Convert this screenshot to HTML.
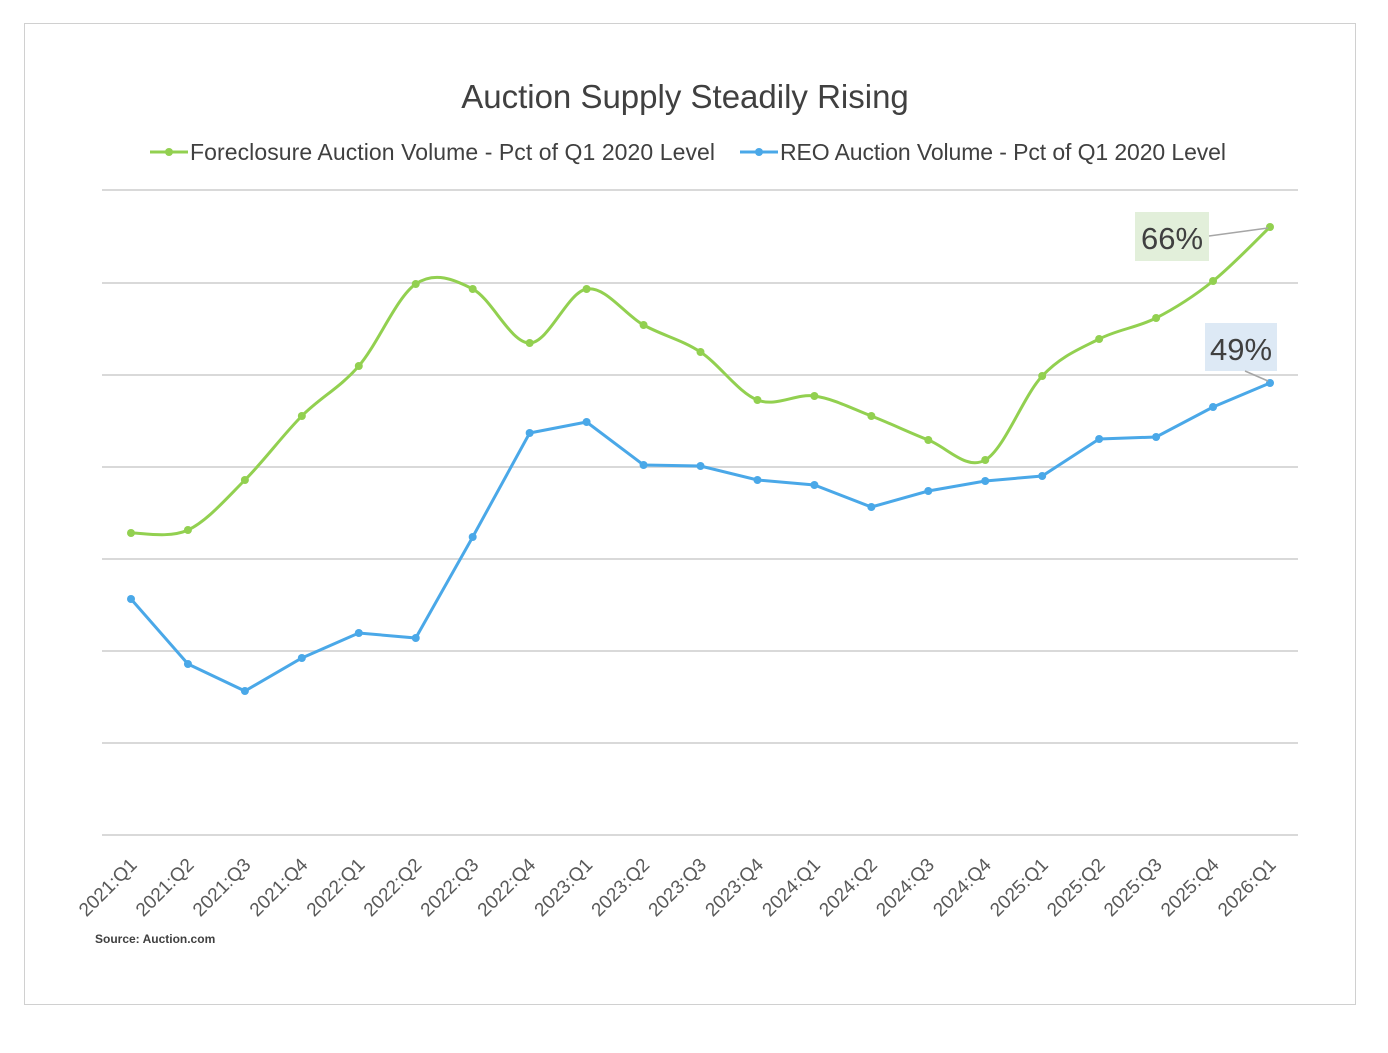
<!DOCTYPE html>
<html><head><meta charset="utf-8"><style>
html,body{margin:0;padding:0;background:#fff}
</style></head><body>
<svg id="s" width="1388" height="1048" xmlns="http://www.w3.org/2000/svg" font-family="'Liberation Sans', sans-serif">
<rect x="24.5" y="23.5" width="1331" height="981" fill="#fff" stroke="#d0d0d0"/>
<text x="685" y="108" text-anchor="middle" font-size="33" fill="#404040">Auction Supply Steadily Rising</text>
<line x1="150" y1="152" x2="188" y2="152" stroke="#92d050" stroke-width="3"/><circle cx="169" cy="152" r="4" fill="#92d050"/>
<text x="190" y="160" font-size="23" fill="#404040" textLength="525">Foreclosure Auction Volume - Pct of Q1 2020 Level</text>
<line x1="740" y1="152" x2="778" y2="152" stroke="#4aa8e8" stroke-width="3"/><circle cx="759" cy="152" r="4" fill="#4aa8e8"/>
<text x="780" y="160" font-size="23" fill="#404040" textLength="446">REO Auction Volume - Pct of Q1 2020 Level</text>
<g stroke="#d9d9d9" stroke-width="2" id="grid"></g>
<path id="gp" fill="none" stroke="#92d050" stroke-width="3"/>
<polyline id="bp" fill="none" stroke="#4aa8e8" stroke-width="3"/>
<g id="dots"></g>
<g id="labs" font-size="19" fill="#595959"></g>
<rect x="1135" y="212" width="74" height="49" fill="#e2efda"/>
<text x="1172" y="249" text-anchor="middle" font-size="31" fill="#404040">66%</text>
<line x1="1209" y1="236" x2="1268" y2="228" stroke="#a6a6a6" stroke-width="1.5"/>
<rect x="1205" y="323" width="72" height="48" fill="#dde9f5"/>
<text x="1241" y="360" text-anchor="middle" font-size="31" fill="#404040">49%</text>
<line x1="1245" y1="371" x2="1268" y2="381" stroke="#a6a6a6" stroke-width="1.5"/>
<text x="95" y="943" font-size="12" font-weight="bold" fill="#404040">Source: Auction.com</text>
</svg>
<script>
var NS="http://www.w3.org/2000/svg";
function el(t,a,p){var e=document.createElementNS(NS,t);for(var k in a)e.setAttribute(k,a[k]);document.getElementById(p).appendChild(e);return e;}
[190,283,375,467,559,651,743,835].forEach(function(y){el("line",{x1:102,x2:1298,y1:y,y2:y},"grid");});
var G=[533,530,480,416,366,284,289,343,289,325,352,400,396,416,440,460,376,339,318,281,227];
var B=[599,664,691,658,633,638,537,433,422,465,466,480,485,507,491,481,476,439,437,407,383];
var X=[];for(var i=0;i<21;i++)X.push(131+i*56.95);
var d="M"+X[0]+","+G[0];
for(var i=0;i<20;i++){var p0=i?i-1:0,p3=i<19?i+2:20;var t=1/6;
d+=" C"+(X[i]+(X[i+1]-X[p0])*t)+","+(G[i]+(G[i+1]-G[p0])*t)+" "+(X[i+1]-(X[p3]-X[i])*t)+","+(G[i+1]-(G[p3]-G[i])*t)+" "+X[i+1]+","+G[i+1];}
document.getElementById("gp").setAttribute("d",d);
document.getElementById("bp").setAttribute("points",X.map(function(x,i){return x+","+B[i]}).join(" "));
var L=[];for(var y=2021;y<=2026;y++)for(var q=1;q<=4;q++)L.push(y+":Q"+q);
for(var i=0;i<21;i++){el("circle",{cx:X[i],cy:G[i],r:4,fill:"#92d050"},"dots");el("circle",{cx:X[i],cy:B[i],r:4,fill:"#4aa8e8"},"dots");
var t=el("text",{x:X[i]+7,y:866,"text-anchor":"end",transform:"rotate(-45 "+(X[i]+7)+" 866)"},"labs");t.textContent=L[i];}
</script>
</body></html>
